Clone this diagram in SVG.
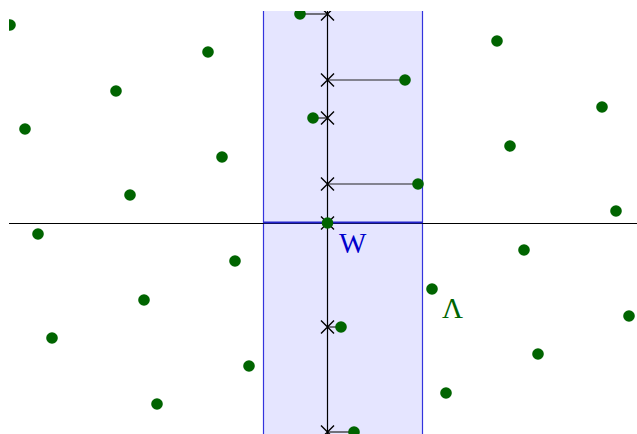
<svg xmlns="http://www.w3.org/2000/svg" width="637" height="434" viewBox="0 0 637 434">
<defs>
<style>
.pt{fill:#006400}
.x{stroke:#000;stroke-width:1.4;fill:none}
.c{stroke:#222;stroke-width:1.2}
.lbl{font-family:"Liberation Serif","DejaVu Serif",serif}
</style>
<clipPath id="clip"><rect x="9" y="11" width="628" height="423"/></clipPath>
<g id="xm"><path class="x" d="M-6.5,-6.5L6.5,6.5M-6.5,6.5L6.5,-6.5"/></g>
</defs>
<rect width="637" height="434" fill="#fff"/>
<g clip-path="url(#clip)">
<g id="strip">
<rect x="263.5" y="0" width="159" height="440" fill="#e5e5ff" stroke="#3333dd" stroke-width="1.2"/>
</g>
<g id="axes">
<line x1="0" y1="223.5" x2="637" y2="223.5" stroke="#000" stroke-width="1"/>
<line x1="263.5" y1="222.5" x2="422.5" y2="222.5" stroke="#2222cc" stroke-width="2"/>
<line x1="327.5" y1="0" x2="327.5" y2="440" stroke="#000" stroke-width="1.2"/>
</g>
<g id="connectors">
<line class="c" x1="300" y1="14" x2="327.5" y2="14"/>
<line class="c" x1="327.5" y1="80" x2="405" y2="80"/>
<line class="c" x1="313" y1="118" x2="327.5" y2="118"/>
<line class="c" x1="327.5" y1="184" x2="418" y2="184"/>
<line class="c" x1="327.5" y1="327" x2="341" y2="327"/>
<line class="c" x1="327.5" y1="432" x2="354" y2="432"/>
</g>
<g id="crosses">
<use href="#xm" x="327.5" y="14"/>
<use href="#xm" x="327.5" y="80"/>
<use href="#xm" x="327.5" y="118"/>
<use href="#xm" x="327.5" y="184"/>
<use href="#xm" x="327.5" y="223"/>
<use href="#xm" x="327.5" y="327"/>
<use href="#xm" x="327.5" y="432"/>
</g>
<g id="lattice">
<circle class="pt" cx="300" cy="14" r="5.8"/>
<circle class="pt" cx="405" cy="80" r="5.8"/>
<circle class="pt" cx="313" cy="118" r="5.8"/>
<circle class="pt" cx="418" cy="184" r="5.8"/>
<circle class="pt" cx="327.5" cy="223" r="5.8"/>
<circle class="pt" cx="341" cy="327" r="5.8"/>
<circle class="pt" cx="354" cy="432" r="5.8"/>
<circle class="pt" cx="10" cy="25" r="5.8"/>
<circle class="pt" cx="208" cy="52" r="5.8"/>
<circle class="pt" cx="116" cy="91" r="5.8"/>
<circle class="pt" cx="25" cy="129" r="5.8"/>
<circle class="pt" cx="222" cy="157" r="5.8"/>
<circle class="pt" cx="130" cy="195" r="5.8"/>
<circle class="pt" cx="38" cy="234" r="5.8"/>
<circle class="pt" cx="235" cy="261" r="5.8"/>
<circle class="pt" cx="144" cy="300" r="5.8"/>
<circle class="pt" cx="52" cy="338" r="5.8"/>
<circle class="pt" cx="249" cy="366" r="5.8"/>
<circle class="pt" cx="157" cy="404" r="5.8"/>
<circle class="pt" cx="497" cy="41" r="5.8"/>
<circle class="pt" cx="602" cy="107" r="5.8"/>
<circle class="pt" cx="510" cy="146" r="5.8"/>
<circle class="pt" cx="616" cy="211" r="5.8"/>
<circle class="pt" cx="524" cy="250" r="5.8"/>
<circle class="pt" cx="432" cy="289" r="5.8"/>
<circle class="pt" cx="629" cy="316" r="5.8"/>
<circle class="pt" cx="538" cy="354" r="5.8"/>
<circle class="pt" cx="446" cy="393" r="5.8"/>
</g>
</g>
<g id="labels">
<text class="lbl" x="339" y="253" font-size="29" fill="#0000cc">W</text>
<text class="lbl" x="442" y="318" font-size="29" fill="#006400">Λ</text>
</g>
</svg>
